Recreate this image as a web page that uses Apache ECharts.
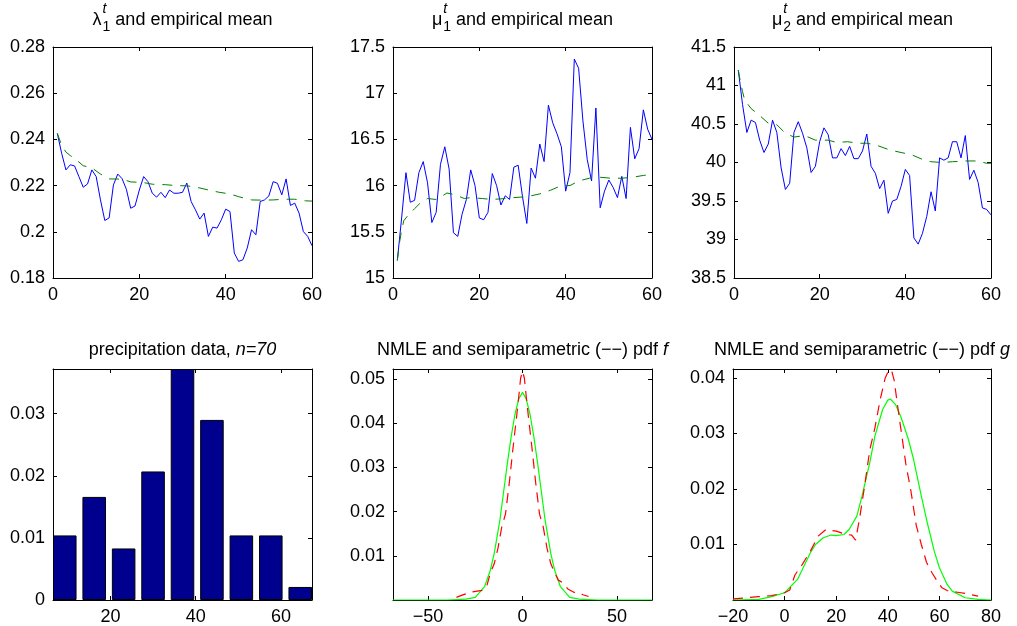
<!DOCTYPE html>
<html>
<head>
<meta charset="utf-8">
<script src="https://cdn.jsdelivr.net/npm/echarts@6/dist/echarts.min.js"></script>
<style>
  html, body { margin: 0; padding: 0; background: #fff; }
  #chart { width: 1017px; height: 626px; }
</style>
</head>
<body>
<div id="chart"></div>
<script>
const FONT = "'Liberation Sans', Arial, Helvetica, sans-serif";
const FS = 18;

// ---- top row: estimates over iterations t = 1..60 ----
const steps = [1, 2, 3, 4, 5, 6, 7, 8, 9, 10, 11, 12, 13, 14, 15, 16, 17, 18, 19, 20,
  21, 22, 23, 24, 25, 26, 27, 28, 29, 30, 31, 32, 33, 34, 35, 36, 37, 38, 39, 40,
  41, 42, 43, 44, 45, 46, 47, 48, 49, 50, 51, 52, 53, 54, 55, 56, 57, 58, 59, 60];

const lambda1 = [0.2426, 0.234, 0.2268, 0.229, 0.2285, 0.2239, 0.2193, 0.2207, 0.2268, 0.2239,
  0.2138, 0.2049, 0.206, 0.2203, 0.225, 0.223, 0.2184, 0.2102, 0.2112, 0.2181,
  0.2239, 0.2217, 0.2167, 0.215, 0.2171, 0.2148, 0.2181, 0.2167, 0.2167, 0.2171,
  0.2211, 0.2131, 0.2095, 0.2055, 0.2081, 0.198, 0.202, 0.2016, 0.2052, 0.2098,
  0.2088, 0.1908, 0.1872, 0.1879, 0.193, 0.2009, 0.1987, 0.2131, 0.2138, 0.2155,
  0.2217, 0.221, 0.216, 0.2229, 0.2114, 0.2124, 0.2081, 0.2001, 0.198, 0.194];
const lambda1MeanT = [1, 2, 3, 4, 5, 7, 9, 11, 13, 16, 18, 21, 23, 26, 28.5, 31, 33, 36, 38.5, 41, 43, 46, 48.5, 51, 53.5, 56, 58.5, 60];
const lambda1Mean = [0.2426, 0.2375, 0.2345, 0.233, 0.2318, 0.2286, 0.2277, 0.225, 0.2229, 0.2228,
  0.2216, 0.2213, 0.2206, 0.2204, 0.22, 0.2199, 0.2194, 0.2181, 0.2171, 0.2164,
  0.2152, 0.2138, 0.2137, 0.2138, 0.2141, 0.2141, 0.2134, 0.2133];

const mu1 = [15.19, 15.65, 16.14, 15.82, 15.84, 16.14, 16.26, 16.03, 15.6, 15.71,
  16.23, 16.42, 16.18, 15.49, 15.45, 15.69, 15.85, 16.17, 16.0, 15.65,
  15.63, 15.71, 16.13, 16.0, 15.79, 15.89, 15.85, 16.2, 16.22, 15.88,
  15.59, 16.19, 16.08, 16.45, 16.26, 16.87, 16.68, 16.56, 16.42, 15.94,
  16.14, 17.37, 17.27, 16.7, 16.28, 16.05, 16.84, 15.76, 15.94, 16.06,
  15.98, 15.87, 16.1, 15.86, 16.63, 16.29, 16.4, 16.82, 16.61, 16.5];
const mu1MeanT = [1, 1.5, 2, 2.5, 3.5, 5, 6.5, 8, 10, 11.5, 12.5, 14.5, 16.5, 18, 20.7, 23, 26, 28, 31, 34, 36.5, 39, 41, 43, 45.5, 48, 50.5, 53, 55.5, 58, 60];
const mu1Mean = [15.19, 15.38, 15.52, 15.62, 15.68, 15.75, 15.82, 15.86, 15.85, 15.89,
  15.92, 15.9, 15.86, 15.87, 15.86, 15.85, 15.86, 15.87, 15.88, 15.91,
  15.95, 16.0, 16.0, 16.05, 16.08, 16.09, 16.08, 16.08, 16.09, 16.11, 16.12];

const mu2 = [41.2, 40.75, 40.39, 40.55, 40.52, 40.29, 40.13, 40.24, 40.55, 40.39,
  39.93, 39.65, 39.73, 40.39, 40.53, 40.38, 40.19, 39.87, 39.95, 40.27,
  40.45, 40.36, 40.06, 40.06, 40.18, 40.09, 40.21, 40.05, 40.05, 40.15,
  40.37, 39.95, 39.86, 39.66, 39.77, 39.34, 39.5, 39.52, 39.69, 39.91,
  39.83, 39.02, 38.94, 39.08, 39.3, 39.62, 39.37, 40.06, 40.03, 40.06,
  40.27, 40.27, 40.06, 40.35, 39.78, 39.9, 39.74, 39.41, 39.39, 39.32];
const mu2MeanT = [1, 1.5, 2, 2.5, 4, 6, 8, 10, 12, 14, 16.5, 19, 22, 24, 26.5, 29, 31, 33, 36.5, 39, 41.5, 44, 46, 48.5, 51, 54, 56.5, 59, 60];
const mu2Mean = [41.2, 41.05, 40.92, 40.81, 40.7, 40.61, 40.51, 40.49, 40.38, 40.33,
  40.35, 40.29, 40.29, 40.26, 40.27, 40.25, 40.25, 40.23, 40.16, 40.13,
  40.1, 40.04, 40.01, 40.0, 40.01, 40.02, 40.02, 39.99, 39.99];

// ---- bottom row ----
const binCenters = [9.3, 16.2, 23.1, 30.0, 36.9, 43.8, 50.7, 57.6, 64.5];
const binDensity = [0.0104, 0.0166, 0.0083, 0.0207, 0.0372, 0.029, 0.0104, 0.0104, 0.0021];

const fNmleX = [-68.6, -40, -35, -30, -25, -20, -17, -15, -12, -10, -8, -6, -4, -2, 0,
  2, 4, 6, 8, 10, 12, 15, 17, 20, 25, 30, 35, 40, 68.6];
const fNmle = [0, 0, 0.0001, 0.0002, 0.0006, 0.0031, 0.0068, 0.0105, 0.018, 0.0245, 0.031, 0.037, 0.042, 0.0455, 0.047,
  0.0455, 0.042, 0.037, 0.031, 0.0245, 0.018, 0.0105, 0.0068, 0.0031, 0.0006, 0.0002, 0.0001, 0, 0];
const fSemiX = [-35, -32, -30, -27, -24, -21, -19, -17, -15, -13, -11, -9, -7, -5, -3, -2, -1, 0,
  1, 2, 3, 5, 7, 9, 11, 13, 15, 17, 19, 21, 24, 27, 30, 32, 35];
const fSemi = [0.0006, 0.0011, 0.0014, 0.0018, 0.002, 0.0022, 0.003, 0.0062, 0.0082, 0.0117, 0.0165, 0.0195, 0.0265, 0.0345, 0.042, 0.046, 0.0502, 0.0518,
  0.0502, 0.046, 0.042, 0.0345, 0.0265, 0.0195, 0.0165, 0.0117, 0.0082, 0.0062, 0.0045, 0.004, 0.0025, 0.0018, 0.0016, 0.0012, 0.0008];

const gNmleX = [-20, -10, -5, 0, 5, 10, 12, 15, 18, 20, 23, 25, 28, 30, 33, 35, 38, 40, 41, 43,
  45, 48, 50, 53, 55, 58, 60, 63, 65, 70, 75, 80];
const gNmle = [0, 0.0001, 0.0006, 0.0013, 0.0037, 0.0085, 0.01, 0.0112, 0.0117, 0.0116, 0.0118, 0.0127, 0.0151, 0.0187, 0.0247, 0.0295, 0.0343, 0.036, 0.0362, 0.0352,
  0.0331, 0.0289, 0.0253, 0.0187, 0.0145, 0.0088, 0.0058, 0.0028, 0.0016, 0.0004, 0.0001, 0];
const gSemiX = [-20, -15, -10, -5, 0, 2, 4, 7, 10, 13, 16, 20, 24, 26, 27.5, 29, 31, 33, 35, 37,
  39, 40.5, 41.5, 42.5, 43.5, 45, 47, 49, 51, 53, 55, 57, 59, 61, 63, 67, 71, 75];
const gSemi = [0.0002, 0.0004, 0.0006, 0.0008, 0.0013, 0.0018, 0.0045, 0.0065, 0.0088, 0.0115, 0.0127, 0.0124, 0.0118, 0.0117, 0.0108, 0.0145, 0.0205, 0.027, 0.031, 0.036,
  0.04, 0.0415, 0.0413, 0.0395, 0.036, 0.031, 0.0245, 0.0195, 0.0135, 0.01, 0.0068, 0.005, 0.0035, 0.0022, 0.0017, 0.0014, 0.0011, 0.0007];

const pairs = (xs, ys) => xs.map((x, i) => [x, ys[i]]);
const minus = (v) => String(v).replace('-', '\u2212');

const boxes = [
  { left: 53, top: 47, width: 259, height: 231 },
  { left: 393, top: 47, width: 259, height: 231 },
  { left: 734, top: 47, width: 257, height: 231 },
  { left: 53, top: 369, width: 259, height: 231 },
  { left: 393, top: 369, width: 259, height: 231 },
  { left: 733, top: 369, width: 258, height: 231 },
];

// axis ranges per panel
const panels = [
  { x: { min: 0, max: 60, interval: 20 }, y: { min: 0.18, max: 0.28, interval: 0.02 } },
  { x: { min: 0, max: 60, interval: 20 }, y: { min: 15, max: 17.5, interval: 0.5 } },
  { x: { min: 0, max: 60, interval: 20 }, y: { min: 38.5, max: 41.5, interval: 0.5 } },
  { x: { min: 6.54, max: 67.26, ticks: [20, 40, 60] }, y: { min: 0, max: 0.0372, ticks: [0, 0.01, 0.02, 0.03] } },
  { x: { min: -68.6, max: 68.6, ticks: [-50, 0, 50] }, y: { min: 0, max: 0.0523, ticks: [0.01, 0.02, 0.03, 0.04, 0.05] } },
  { x: { min: -20, max: 80, interval: 20 }, y: { min: 0, max: 0.0416, ticks: [0.01, 0.02, 0.03, 0.04] } },
];

function makeAxis(dim, gridIndex, cfg, mirror) {
  const ax = {
    type: 'value',
    gridIndex: gridIndex,
    min: cfg.min,
    max: cfg.max,
    position: dim === 'x' ? (mirror ? 'top' : 'bottom') : (mirror ? 'right' : 'left'),
    axisLine: { show: true, onZero: false, lineStyle: { color: '#000', width: 1 } },
    splitLine: { show: false },
    axisTick: { show: true, inside: true, length: 4, lineStyle: { color: '#000', width: 1 } },
    axisLabel: {
      show: !mirror,
      color: '#000',
      fontFamily: FONT,
      fontSize: FS,
      margin: 8,
      formatter: minus,
    },
  };
  if (cfg.interval != null) ax.interval = cfg.interval;
  if (cfg.ticks) {
    ax.axisTick.customValues = cfg.ticks;
    ax.axisLabel.customValues = cfg.ticks;
  }
  return ax;
}

const xAxes = [];
const yAxes = [];
panels.forEach((p, g) => {
  xAxes.push(makeAxis('x', g, p.x, false), makeAxis('x', g, p.x, true));
  yAxes.push(makeAxis('y', g, p.y, false), makeAxis('y', g, p.y, true));
});

function lineSeries(g, data, color, dash, width) {
  return {
    type: 'line',
    xAxisIndex: 2 * g,
    yAxisIndex: 2 * g,
    data: data,
    showSymbol: false,
    symbol: 'none',
    smooth: false,
    silent: true,
    lineStyle: { color: color, width: width || 1, type: dash || 'solid' },
  };
}

const series = [
  lineSeries(0, pairs(steps, lambda1), '#0000ff'),
  lineSeries(0, pairs(lambda1MeanT, lambda1Mean), '#008000', [10, 8]),
  lineSeries(1, pairs(steps, mu1), '#0000ff'),
  lineSeries(1, pairs(mu1MeanT, mu1Mean), '#008000', [10, 8]),
  lineSeries(2, pairs(steps, mu2), '#0000ff'),
  lineSeries(2, pairs(mu2MeanT, mu2Mean), '#008000', [10, 8]),
  {
    type: 'bar',
    xAxisIndex: 6,
    yAxisIndex: 6,
    data: pairs(binCenters, binDensity),
    barCategoryGap: '20%',
    silent: true,
    itemStyle: { color: '#00008f', borderColor: '#000', borderWidth: 1 },
  },
  lineSeries(4, pairs(fNmleX, fNmle), '#00ff00', null, 1.2),
  lineSeries(4, pairs(fSemiX, fSemi), '#ff0000', [10, 7], 1.2),
  lineSeries(5, pairs(gNmleX, gNmle), '#00ff00', null, 1.2),
  lineSeries(5, pairs(gSemiX, gSemi), '#ff0000', [10, 7], 1.2),
];

// ---- titles ----
const measure = document.createElement('canvas').getContext('2d');
function textW(str, font) {
  measure.font = font;
  return measure.measureText(str).width;
}
const mainFont = FS + 'px ' + FONT;
const scriptSize = 14;

const topTitles = [
  { sym: 'λ', sup: 't', sub: '1', rest: ' and empirical mean' },
  { sym: 'μ', sup: 't', sub: '1', rest: ' and empirical mean' },
  { sym: 'μ', sup: 't', sub: '2', rest: ' and empirical mean' },
];

const graphics = [];
topTitles.forEach((tt, i) => {
  const b = boxes[i];
  const cx = b.left + b.width / 2;
  const wSym = textW(tt.sym, mainFont);
  const wScr = Math.max(textW(tt.sup, 'italic ' + scriptSize + 'px ' + FONT), textW(tt.sub, scriptSize + 'px ' + FONT));
  const wRest = textW(tt.rest, mainFont);
  const x0 = cx - (wSym + 1 + wScr + wRest) / 2;
  const base = { fill: '#000', fontFamily: FONT, align: 'left', verticalAlign: 'middle' };
  graphics.push(
    { type: 'text', x: x0, y: 20, silent: true, style: Object.assign({ text: tt.sym, fontSize: FS }, base) },
    { type: 'text', x: x0 + wSym + 1, y: 9, silent: true, style: Object.assign({ text: tt.sup, fontSize: scriptSize, fontStyle: 'italic' }, base) },
    { type: 'text', x: x0 + wSym + 1, y: 27, silent: true, style: Object.assign({ text: tt.sub, fontSize: scriptSize }, base) },
    { type: 'text', x: x0 + wSym + 1 + wScr, y: 20, silent: true, style: Object.assign({ text: tt.rest, fontSize: FS }, base) }
  );
});

const bottomTitles = [
  ['precipitation data, ', 'n=70'],
  ['NMLE and semiparametric (\u2212\u2212) pdf ', 'f'],
  ['NMLE and semiparametric (\u2212\u2212) pdf ', 'g'],
];
bottomTitles.forEach((bt, i) => {
  const b = boxes[3 + i];
  graphics.push({
    type: 'text',
    x: b.left + b.width / 2,
    y: 350,
    silent: true,
    style: {
      text: '{n|' + bt[0] + '}{i|' + bt[1] + '}',
      align: 'center',
      verticalAlign: 'middle',
      fill: '#000',
      rich: {
        n: { fontFamily: FONT, fontSize: FS, fill: '#000' },
        i: { fontFamily: FONT, fontSize: FS, fontStyle: 'italic', fill: '#000' },
      },
    },
  });
});

const chart = echarts.init(document.getElementById('chart'), null, { renderer: 'canvas' });
chart.setOption({
  animation: false,
  backgroundColor: '#ffffff',
  grid: boxes.map((b) => Object.assign({ containLabel: false }, b)),
  xAxis: xAxes,
  yAxis: yAxes,
  series: series,
  graphic: graphics,
});
</script>
</body>
</html>
